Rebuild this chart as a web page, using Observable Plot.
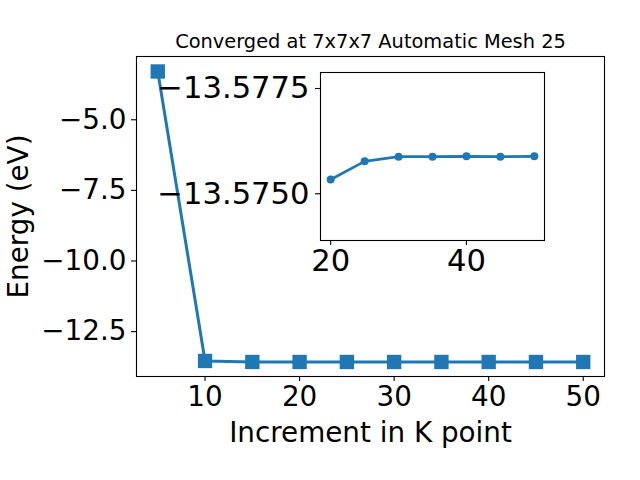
<!DOCTYPE html>
<html><head><meta charset="utf-8">
<script src="https://cdn.jsdelivr.net/npm/d3@7"></script>
<script src="https://cdn.jsdelivr.net/npm/@observablehq/plot@0.6"></script>
<style>
body{margin:0;background:#fff;}
#wrap{position:relative;width:640px;height:480px;}
#wrap svg{position:absolute;left:0;top:0;}
</style></head><body><div id="wrap"></div>
<script>
const kPoints = [5, 10, 15, 20, 25, 30, 35, 40, 45, 50];
const energies = [-3.29, -13.54, -13.5752, -13.57534, -13.57577, -13.57588, -13.57588, -13.57589, -13.57588, -13.57589];
const mainXTicks = [10, 20, 30, 40, 50];
const mainYTicks = [-12.5, -10, -7.5, -5];
const insetXTicks = [20, 40];
const insetYTicks = [-13.5775, -13.5750];
const insetStart = 20;
const titleText = "Converged at 7x7x7 Automatic Mesh 25";
const xLabel = "Increment in K point";
const yLabel = "Energy (eV)";

const data = kPoints.map((k, i) => ({k, e: energies[i]}));
const insetData = data.filter(d => d.k >= insetStart);
const font = "'DejaVu Sans', sans-serif";
const blue = "#1f77b4";
const fs = 27.8;
const fsInset = 30.6;

const main = Plot.plot({
  width: 640, height: 480,
  marginLeft: 136, marginRight: 36, marginTop: 56, marginBottom: 104,
  style: {fontFamily: font, background: "white", color: "black", overflow: "visible"},
  x: {domain: [2.75, 52.25]},
  y: {domain: [-14.09, -2.76]},
  marks: [
    Plot.axisX({ticks: mainXTicks, tickSize: 5, tickPadding: 5, fontSize: fs, label: null, tickFormat: d3.format("d"), strokeWidth: 1.1}),
    Plot.axisY({ticks: mainYTicks, tickSize: 5, tickPadding: 5, fontSize: fs, label: null, tickFormat: d3.format(".1f"), strokeWidth: 1.1}),
    Plot.frame({stroke: "black", strokeWidth: 1.1}),
    Plot.line(data, {x: "k", y: "e", stroke: blue, strokeWidth: 3}),
    Plot.dot(data, {x: "k", y: "e", symbol: "square", r: 8.1, fill: blue}),
    Plot.text([titleText], {text: d => d, frameAnchor: "top", dy: -8.3, lineAnchor: "bottom", fontSize: 19.4}),
    Plot.text([xLabel], {text: d => d, frameAnchor: "bottom", dy: 65.7, lineAnchor: "bottom", fontSize: fs}),
    Plot.text([yLabel], {text: d => d, frameAnchor: "left", dx: -117, rotate: -90, textAnchor: "middle", fontSize: fs})
  ]
});

const inset = Plot.plot({
  width: 640, height: 480,
  marginLeft: 320, marginRight: 96, marginTop: 72, marginBottom: 240,
  style: {fontFamily: font, background: "transparent", color: "black", overflow: "visible"},
  x: {domain: [18.5, 51.5]},
  y: {domain: [-13.57389, -13.57788]},
  marks: [
    Plot.frame({fill: "white", stroke: "black", strokeWidth: 1.1}),
    Plot.axisX({ticks: insetXTicks, tickSize: 5, tickPadding: 4, fontSize: fsInset, label: null, tickFormat: d3.format("d"), strokeWidth: 1.1}),
    Plot.axisY({ticks: insetYTicks, tickSize: 5, tickPadding: 6, fontSize: fsInset, label: null, tickFormat: d3.format(".4f"), strokeWidth: 1.1}),
    Plot.line(insetData, {x: "k", y: "e", stroke: blue, strokeWidth: 2.7}),
    Plot.dot(insetData, {x: "k", y: "e", r: 4, fill: blue})
  ]
});

const wrap = document.getElementById("wrap");
wrap.appendChild(main);
wrap.appendChild(inset);
</script></body></html>
